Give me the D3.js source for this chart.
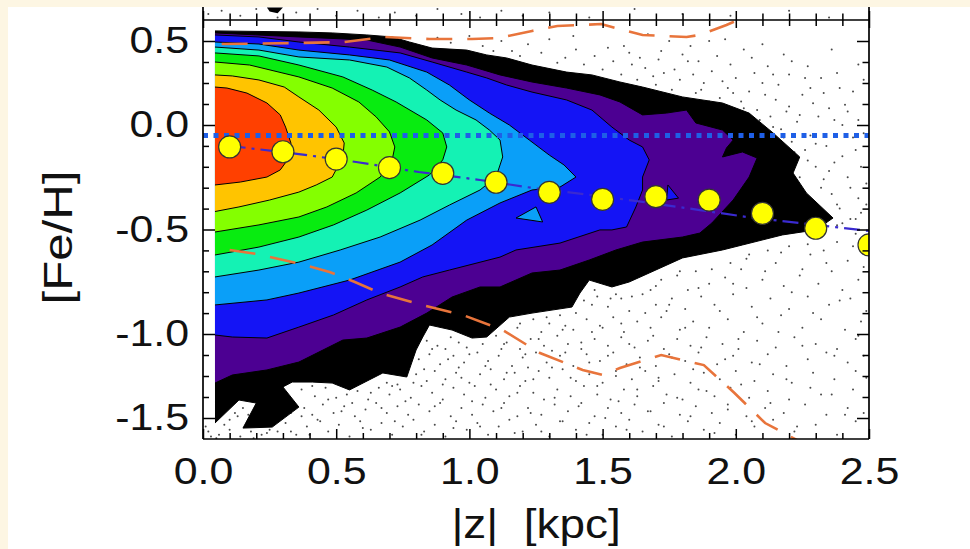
<!DOCTYPE html>
<html><head><meta charset="utf-8">
<script src="https://cdn.jsdelivr.net/npm/d3@7"></script>
<style>
html,body{margin:0;padding:0;background:#fdf6e3;}
svg{display:block;}
text{font-family:"Liberation Sans",Arial,Helvetica,sans-serif;fill:#111;}
</style>
</head><body>
<svg id="c" width="970" height="549"></svg>
<script>
// ---------------- DATA ----------------
const xMajor = [0, 0.5, 1.0, 1.5, 2.0, 2.5];
const xMinor = [0.1,0.2,0.3,0.4,0.6,0.7,0.8,0.9,1.1,1.2,1.3,1.4,1.6,1.7,1.8,1.9,2.1,2.2,2.3,2.4];
const yMajor = [0.5, 0, -0.5, -1.0, -1.5];
const yMinor = [0.375,0.25,0.125,-0.1,-0.2,-0.3,-0.4,-0.6,-0.7,-0.8,-0.9,-1.125,-1.25,-1.375];

// mean [Fe/H] per |z| bin (yellow circles)
const zMeans   = [0.1,0.3,0.5,0.7,0.9,1.1,1.3,1.5,1.7,1.9,2.1,2.3,2.5];
const fehMeans = [-0.105,-0.128,-0.163,-0.204,-0.231,-0.274,-0.322,-0.356,-0.343,-0.359,-0.423,-0.494,-0.574];

// dash-dot fit line
const fitZ   = [0.1,0.36,0.575,0.81,1.04,1.235,1.49,1.65,1.865,2.04,2.24,2.5];
const fitFeh = [-0.1,-0.139,-0.177,-0.225,-0.263,-0.301,-0.34,-0.368,-0.407,-0.44,-0.469,-0.507];

// blue dotted reference level
const refFeh = -0.05;

// orange dashed envelopes
const upperEnv = [[0.07,0.482],[0.36,0.488],[0.53,0.494],[0.68,0.524],[0.85,0.512],[1.01,0.512],[1.11,0.518],[1.235,0.56],[1.33,0.589],[1.495,0.601],[1.55,0.577],[1.65,0.536],[1.815,0.524],[1.865,0.536],[1.965,0.595],[2.015,0.63]];
const lowerEnv = [[0.1,-0.598],[0.2,-0.617],[0.35,-0.66],[0.475,-0.703],[0.57,-0.751],[0.665,-0.804],[0.82,-0.861],[0.975,-0.909],[1.125,-0.981],[1.265,-1.113],[1.425,-1.214],[1.5,-1.244],[1.565,-1.202],[1.72,-1.125],[1.88,-1.185],[1.995,-1.351],[2.11,-1.53],[2.24,-1.64]];

// filled density contours (outer to inner), [z, feh]
const levelBlack = [[0.045,0.56],[0.36,0.554],[0.485,0.548],[0.615,0.536],[0.71,0.524],[0.775,0.494],[0.86,0.458],[0.99,0.446],[1.065,0.417],[1.14,0.399],[1.235,0.357],[1.365,0.315],[1.46,0.298],[1.565,0.256],[1.65,0.226],[1.8,0.167],[1.95,0.131],[2.05,0.071],[2.14,-0.038],[2.24,-0.153],[2.215,-0.23],[2.265,-0.325],[2.365,-0.445],[2.3,-0.502],[2.175,-0.526],[2.025,-0.574],[1.95,-0.598],[1.8,-0.636],[1.675,-0.708],[1.6,-0.751],[1.535,-0.775],[1.45,-0.742],[1.415,-0.804],[1.385,-0.871],[1.235,-0.9],[1.15,-0.919],[1.065,-1.018],[1.01,-1.024],[0.935,-0.981],[0.85,-0.957],[0.825,-1.018],[0.8,-1.095],[0.765,-1.256],[0.675,-1.232],[0.55,-1.333],[0.485,-1.292],[0.41,-1.286],[0.335,-1.286],[0.3,-1.315],[0.36,-1.435],[0.26,-1.554],[0.15,-1.56],[0.2,-1.411],[0.135,-1.393],[0.045,-1.53]];
const levelPurple = [[0.045,0.548],[0.36,0.524],[0.615,0.506],[0.74,0.464],[0.86,0.399],[0.99,0.357],[1.115,0.298],[1.235,0.256],[1.365,0.22],[1.49,0.179],[1.565,0.137],[1.65,0.06],[1.74,0.071],[1.815,0.089],[1.85,0.012],[1.95,-0.024],[1.99,-0.072],[1.965,-0.11],[1.95,-0.153],[2.025,-0.129],[2.08,-0.158],[2.05,-0.249],[1.99,-0.359],[1.91,-0.469],[1.865,-0.517],[1.8,-0.536],[1.65,-0.56],[1.55,-0.598],[1.45,-0.646],[1.34,-0.694],[1.235,-0.708],[1.115,-0.775],[1.04,-0.775],[0.935,-0.823],[0.84,-0.9],[0.74,-0.967],[0.615,-1.024],[0.525,-1.036],[0.36,-1.167],[0.24,-1.214],[0.11,-1.244],[0.045,-1.292]];
const levelBlue = [[0.045,0.536],[0.21,0.524],[0.36,0.494],[0.55,0.464],[0.74,0.429],[0.86,0.375],[0.99,0.315],[1.065,0.28],[1.14,0.238],[1.235,0.196],[1.365,0.149],[1.46,0.089],[1.535,-0.01],[1.6,-0.072],[1.65,-0.105],[1.675,-0.167],[1.65,-0.249],[1.65,-0.311],[1.625,-0.392],[1.59,-0.488],[1.535,-0.502],[1.49,-0.502],[1.34,-0.565],[1.175,-0.598],[1.115,-0.632],[0.925,-0.694],[0.825,-0.727],[0.74,-0.775],[0.615,-0.837],[0.49,-0.909],[0.36,-0.967],[0.24,-1.024],[0.11,-1.018],[0.045,-1.006]];
const levelBlueIsland = [[1.745,-0.287],[1.785,-0.35],[1.74,-0.359],[1.745,-0.287]];
const levelLightBlue = [[0.045,0.494],[0.21,0.482],[0.36,0.446],[0.55,0.417],[0.7,0.387],[0.84,0.315],[0.925,0.238],[1.0,0.149],[1.075,0.071],[1.15,0.0],[1.225,-0.072],[1.3,-0.144],[1.355,-0.191],[1.4,-0.249],[1.34,-0.297],[1.235,-0.311],[1.115,-0.373],[0.99,-0.455],[0.86,-0.574],[0.74,-0.656],[0.55,-0.742],[0.36,-0.804],[0.24,-0.837],[0.045,-0.861]];
const levelLightBlueIsland = [[1.25,-0.392],[1.175,-0.445],[1.275,-0.464],[1.25,-0.392]];
const levelAqua = [[0.045,0.464],[0.21,0.446],[0.36,0.405],[0.55,0.387],[0.69,0.345],[0.775,0.28],[0.84,0.208],[0.89,0.149],[0.95,0.089],[1.025,0.03],[1.075,-0.024],[1.115,-0.072],[1.125,-0.153],[1.1,-0.249],[1.04,-0.311],[0.925,-0.383],[0.815,-0.455],[0.665,-0.536],[0.515,-0.598],[0.36,-0.656],[0.21,-0.694],[0.045,-0.727]];
const levelGreen = [[0.045,0.429],[0.21,0.411],[0.36,0.357],[0.525,0.286],[0.635,0.208],[0.725,0.137],[0.84,0.03],[0.9,-0.038],[0.915,-0.105],[0.9,-0.167],[0.85,-0.239],[0.74,-0.325],[0.615,-0.407],[0.49,-0.478],[0.36,-0.536],[0.21,-0.584],[0.045,-0.622]];
const levelYellowGreen = [[0.045,0.375],[0.175,0.357],[0.36,0.286],[0.485,0.22],[0.585,0.137],[0.65,0.048],[0.7,-0.033],[0.72,-0.105],[0.71,-0.167],[0.665,-0.249],[0.575,-0.325],[0.465,-0.392],[0.36,-0.44],[0.21,-0.478],[0.045,-0.512]];
const levelOrange = [[0.045,0.298],[0.11,0.292],[0.21,0.268],[0.305,0.226],[0.36,0.167],[0.435,0.089],[0.5,-0.01],[0.53,-0.086],[0.525,-0.153],[0.485,-0.249],[0.425,-0.287],[0.36,-0.321],[0.25,-0.359],[0.135,-0.392],[0.045,-0.414]];
const levelRed = [[0.045,0.226],[0.09,0.22],[0.165,0.19],[0.24,0.131],[0.29,0.06],[0.31,-0.01],[0.33,-0.086],[0.325,-0.153],[0.29,-0.215],[0.24,-0.249],[0.14,-0.273],[0.045,-0.287]];

// individual stars outside the contoured region
const starsLow = [[2.4,-0.47],[2.45,-0.52],[2.38,-0.56],[2.47,-0.6],[2.05,-0.62],[2.12,-0.6],[2.2,-0.58],[2.28,-0.62],[2.33,-0.6],[2.42,-0.65],[2.48,-0.68],[2.15,-0.66],[2.25,-0.69],[2.36,-0.7],[1.98,-0.66],[2.02,-0.69],
[1.72,-0.74],[1.78,-0.72],[1.85,-0.7],[1.9,-0.76],[1.96,-0.73],[2.04,-0.78],[2.1,-0.74],[2.18,-0.77],[2.24,-0.72],[2.31,-0.76],[2.4,-0.79],[2.46,-0.74],[1.68,-0.79],[1.82,-0.79],[1.47,-0.79],
[1.43,-0.84],[1.48,-0.82],[1.52,-0.87],[1.57,-0.83],[1.6,-0.89],[1.65,-0.81],[1.7,-0.86],[1.76,-0.83],[1.81,-0.88],[1.87,-0.82],[1.92,-0.86],[1.99,-0.81],[2.06,-0.87],[2.13,-0.83],[2.2,-0.88],[2.27,-0.82],[2.35,-0.86],[2.43,-0.83],[2.49,-0.89],[1.55,-0.81],[1.74,-0.89],
[1.18,-0.97],[1.24,-0.93],[1.3,-0.95],[1.34,-0.91],[1.39,-0.98],[1.44,-0.93],[1.49,-0.96],[1.54,-0.92],[1.58,-0.99],[1.63,-0.94],[1.68,-0.97],[1.72,-0.92],[1.79,-0.98],[1.84,-0.94],[1.9,-0.97],[1.97,-0.93],[2.03,-0.99],[2.1,-0.95],[2.17,-0.91],[2.25,-0.97],[2.32,-0.93],[2.41,-0.98],[2.47,-0.94],[1.27,-0.99],[1.36,-0.96],[1.46,-0.99],
[0.84,-1.04],[0.88,-1.07],[0.93,-1.02],[0.99,-1.08],[1.05,-1.06],[1.1,-1.01],[1.14,-1.05],[1.19,-1.09],[1.23,-1.03],[1.28,-1.07],[1.33,-1.01],[1.37,-1.06],[1.42,-1.09],[1.47,-1.03],[1.52,-1.07],[1.57,-1.02],[1.62,-1.08],[1.67,-1.04],[1.73,-1.09],[1.78,-1.03],[1.83,-1.07],[1.89,-1.02],[1.95,-1.06],[2.01,-1.09],[2.08,-1.04],[2.15,-1.08],[2.22,-1.02],[2.3,-1.06],[2.38,-1.09],[2.45,-1.03],[0.91,-1.09],[1.12,-1.09],[1.31,-1.1],
[0.81,-1.15],[0.85,-1.12],[0.89,-1.18],[0.94,-1.13],[0.98,-1.17],[1.03,-1.11],[1.07,-1.16],[1.11,-1.13],[1.16,-1.19],[1.2,-1.14],[1.25,-1.11],[1.29,-1.17],[1.34,-1.13],[1.39,-1.19],[1.44,-1.12],[1.49,-1.16],[1.54,-1.11],[1.59,-1.18],[1.64,-1.14],[1.7,-1.19],[1.75,-1.12],[1.81,-1.16],[1.86,-1.11],[1.93,-1.18],[1.99,-1.13],[2.06,-1.17],[2.12,-1.12],[2.19,-1.19],[2.27,-1.15],[2.34,-1.11],[2.42,-1.17],[2.48,-1.13],[0.96,-1.2],[1.22,-1.2],
[0.8,-1.24],[0.84,-1.28],[0.87,-1.22],[0.91,-1.27],[0.95,-1.23],[1.0,-1.29],[1.04,-1.24],[1.08,-1.21],[1.13,-1.27],[1.17,-1.23],[1.21,-1.28],[1.26,-1.22],[1.3,-1.26],[1.35,-1.21],[1.4,-1.28],[1.45,-1.24],[1.5,-1.29],[1.55,-1.22],[1.61,-1.27],[1.66,-1.22],[1.71,-1.28],[1.77,-1.24],[1.83,-1.29],[1.88,-1.23],[1.94,-1.27],[2.0,-1.22],[2.07,-1.28],[2.14,-1.24],[2.21,-1.29],[2.29,-1.23],[2.37,-1.27],[2.45,-1.22],[0.69,-1.29],[0.73,-1.3],
[0.37,-1.33],[0.42,-1.37],[0.46,-1.32],[0.5,-1.38],[0.54,-1.36],[0.58,-1.34],[0.62,-1.39],[0.66,-1.32],[0.7,-1.36],[0.74,-1.33],[0.78,-1.38],[0.82,-1.31],[0.86,-1.35],[0.9,-1.39],[0.94,-1.32],[0.98,-1.36],[1.02,-1.31],[1.06,-1.38],[1.1,-1.33],[1.15,-1.37],[1.19,-1.31],[1.24,-1.35],[1.28,-1.39],[1.33,-1.33],[1.38,-1.37],[1.43,-1.31],[1.48,-1.36],[1.53,-1.39],[1.58,-1.33],[1.63,-1.37],[1.69,-1.31],[1.74,-1.36],[1.8,-1.39],[1.86,-1.33],[1.92,-1.37],[1.98,-1.32],[2.05,-1.38],[2.12,-1.34],[2.2,-1.39],[2.28,-1.32],[2.36,-1.36],[2.44,-1.33],
[0.38,-1.44],[0.41,-1.48],[0.45,-1.42],[0.49,-1.47],[0.53,-1.43],[0.57,-1.49],[0.61,-1.45],[0.65,-1.41],[0.69,-1.47],[0.73,-1.43],[0.77,-1.48],[0.81,-1.42],[0.85,-1.46],[0.89,-1.41],[0.93,-1.49],[0.97,-1.44],[1.01,-1.48],[1.05,-1.42],[1.09,-1.46],[1.13,-1.41],[1.18,-1.49],[1.22,-1.44],[1.27,-1.48],[1.32,-1.42],[1.37,-1.46],[1.42,-1.41],[1.47,-1.49],[1.52,-1.44],[1.57,-1.47],[1.62,-1.42],[1.68,-1.46],[1.73,-1.41],[1.79,-1.48],[1.85,-1.43],[1.91,-1.47],[1.97,-1.42],[2.04,-1.49],[2.11,-1.44],[2.18,-1.47],[2.26,-1.42],[2.34,-1.48],[2.42,-1.44],[2.48,-1.47],[0.33,-1.47],
[0.28,-1.58],[0.31,-1.53],[0.35,-1.6],[0.39,-1.55],[0.43,-1.51],[0.47,-1.58],[0.51,-1.54],[0.55,-1.61],[0.59,-1.52],[0.63,-1.57],[0.67,-1.53],[0.71,-1.6],[0.75,-1.55],[0.79,-1.51],[0.83,-1.58],[0.87,-1.54],[0.91,-1.61],[0.95,-1.52],[0.99,-1.57],[1.03,-1.53],[1.07,-1.6],[1.11,-1.55],[1.15,-1.51],[1.2,-1.58],[1.25,-1.54],[1.3,-1.61],[1.35,-1.52],[1.4,-1.57],[1.45,-1.53],[1.5,-1.6],[1.55,-1.55],[1.6,-1.51],[1.65,-1.58],[1.71,-1.54],[1.76,-1.61],[1.82,-1.52],[1.88,-1.57],[1.94,-1.53],[2.0,-1.6],[2.07,-1.55],[2.14,-1.51],[2.22,-1.58],[2.3,-1.54],[2.38,-1.6],[2.45,-1.52],
[0.12,-1.47],[0.15,-1.44],[0.1,-1.51],[0.17,-1.48],[0.02,-1.58],[0.06,-1.6],[0.1,-1.57],[0.14,-1.61],[0.18,-1.58],[0.22,-1.6],[0.25,-1.57],[0.01,-1.55],[0.03,-1.61]];
const starsLowExtra = [[0.41,-1.31],[0.44,-1.52],[0.47,-1.39],[0.52,-1.46],[0.56,-1.41],[0.6,-1.56],[0.63,-1.35],[0.67,-1.44],[0.71,-1.31],[0.72,-1.52],[0.76,-1.4],[0.79,-1.29],[0.82,-1.6],[0.83,-1.21],[0.86,-1.09],[0.87,-1.43],[0.9,-1.3],[0.92,-1.15],[0.94,-1.56],[0.96,-1.05],[0.97,-1.26],[1.0,-1.12],[1.01,-1.4],[1.04,-1.55],[1.06,-1.19],[1.08,-1.3],[1.12,-1.44],[1.13,-1.06],[1.14,-1.23],[1.17,-1.59],[1.18,-1.35],[1.19,-0.95],[1.21,-1.12],[1.23,-1.47],[1.24,-1.27],[1.26,-1.03],[1.27,-1.58],[1.29,-0.92],[1.31,-1.2],[1.32,-1.38],[1.34,-1.52],[1.35,-0.98],[1.36,-1.11],[1.38,-1.26],[1.4,-0.9],[1.41,-1.43],[1.42,-1.05],[1.44,-1.6],[1.45,-1.17],[1.46,-0.86],[1.48,-1.31],[1.5,-0.97],[1.51,-1.5],[1.52,-1.13],[1.53,-0.83],[1.55,-1.25],[1.56,-1.4],[1.57,-0.95],[1.59,-1.57],[1.6,-1.06],[1.61,-0.82],[1.63,-1.33],[1.64,-1.2],[1.66,-0.9],[1.67,-1.46],[1.69,-1.01],[1.7,-0.77],[1.71,-1.26],[1.73,-1.55],[1.75,-0.86],[1.76,-1.14],[1.78,-1.38],[1.79,-0.7],[1.81,-0.97],[1.83,-1.49],[1.84,-1.21],[1.86,-0.78],[1.87,-1.08],[1.89,-1.34],[1.91,-0.69],[1.92,-1.59],[1.94,-0.89],[1.96,-1.15],[1.97,-1.45],[1.99,-0.76],[2.01,-1.03],[2.02,-1.3],[2.04,-0.64],[2.06,-1.52],[2.08,-0.92],[2.09,-1.18],[2.11,-0.7],[2.13,-1.41],[2.16,-0.99],[2.17,-0.61],[2.19,-1.27],[2.21,-0.8],[2.23,-1.55],[2.25,-1.07],[2.27,-0.57],[2.29,-0.9],[2.32,-1.36],[2.34,-0.66],[2.37,-1.13],[2.39,-0.84],[2.41,-1.48],[2.44,-0.58],[2.46,-1.01],[2.49,-1.26],[0.3,-1.5],[0.33,-1.58],[0.37,-1.49],[0.4,-1.6],[0.05,-1.62],[0.08,-1.54],[0.19,-1.62],[0.24,-1.59],[0.13,-1.49]];
const starsHigh = [[0.88,0.52],[0.93,0.49],[1.0,0.53],[1.05,0.47],[1.12,0.5],[1.16,0.44],[1.22,0.48],[1.27,0.43],[1.3,0.51],[1.36,0.4],[1.4,0.45],[1.43,0.36],[1.47,0.41],[1.5,0.33],[1.54,0.38],[1.57,0.3],[1.6,0.43],[1.63,0.27],[1.66,0.34],[1.7,0.24],[1.73,0.31],[1.76,0.21],[1.79,0.27],[1.82,0.38],[1.85,0.19],[1.88,0.25],[1.91,0.32],[1.94,0.16],[1.97,0.22],[2.0,0.28],[2.02,0.14],[2.05,0.2],[2.08,0.09],[2.1,0.25],[2.13,0.05],[2.15,0.15],[2.17,-0.02],[2.19,0.08],[2.21,-0.08],[2.23,0.02],[2.25,0.18],[2.26,-0.12],[2.28,-0.05],[2.3,-0.2],[2.31,0.05],[2.33,-0.26],[2.34,-0.1],[2.36,-0.33],[2.37,-0.18],[2.39,-0.4],[2.4,0.0],[2.42,-0.25],[2.43,-0.45],[2.45,-0.12],[2.46,-0.35],[2.48,-0.04],[2.49,-0.28],[2.41,0.12],[2.35,0.1],[2.28,0.22],[2.2,0.3],[2.12,0.35],[2.44,0.2],[2.47,-0.42],[2.38,-0.48],[2.24,-0.25],
[1.58,0.47],[1.64,0.4],[1.72,0.44],[1.8,0.42],[1.86,0.38],[1.93,0.41],[1.98,0.36],[2.06,0.4],[2.14,0.3],[2.18,0.42],[2.27,0.35],[2.32,0.28],[2.38,0.31],[2.46,0.36],[1.75,0.5],[1.67,0.54],[1.9,0.5],[2.1,0.48],[2.36,0.45],
[1.52,0.46],[1.61,0.36],[1.69,0.29],[1.71,0.39],[1.77,0.33],[1.84,0.3],[1.87,0.21],[1.9,0.14],[1.95,0.26],[1.99,0.19],[2.03,0.1],[2.07,0.31],[2.09,0.03],[2.11,0.18],[2.14,-0.01],[2.16,0.24],[2.18,-0.06],[2.2,0.11],[2.22,-0.13],[2.24,0.06],[2.27,-0.17],[2.29,0.13],[2.3,-0.09],[2.32,-0.3],[2.33,0.19],[2.35,-0.22],[2.37,0.03],[2.38,-0.38],[2.4,-0.15],[2.42,0.08],[2.43,-0.3],[2.45,-0.45],[2.46,0.03],[2.47,-0.2],[2.48,0.27],[2.49,-0.38],[2.44,-0.06],[2.39,0.22],[2.26,0.28],[2.21,0.38],[2.03,0.45],[1.96,0.51],[1.83,0.47],[1.09,0.44],[1.19,0.41],[1.33,0.37],[1.39,0.53]];
// stars of the panel above, visible over the top axis
const starsAbove = [[0.02,0.66],[0.07,0.68],[0.14,0.65],[0.2,0.69],[0.28,0.64],[0.35,0.67],[0.43,0.69],[0.5,0.65],[0.58,0.68],[0.66,0.64],[0.72,0.67],[0.8,0.65],[0.88,0.69],[0.97,0.66],[1.04,0.64],[1.12,0.68],[1.2,0.65],[1.3,0.67],[1.45,0.64],[1.62,0.69],[1.8,0.66],[1.98,0.65],[2.2,0.68],[2.35,0.64]];
const blobAbove = [[0.24,0.70],[0.30,0.70],[0.28,0.665],[0.25,0.675]];

// ---------------- DRAW ----------------
const svg = d3.select('#c');
const W = 970, H = 549;
const L = 203, R = 869, T = 20, B = 439;
const x = d3.scaleLinear().domain([0, 2.5]).range([L, R]);
const y = d3.scaleLinear().domain([0.625, 0.5, 0, -0.5, -1.0, -1.5, -1.625]).range([20, 41, 125, 229.5, 334, 418, 439]);

svg.append('rect').attr('width', W).attr('height', H).attr('fill', '#fdf6e3');
svg.append('rect').attr('x', 8).attr('y', 7).attr('width', W - 8).attr('height', H - 7).attr('fill', '#ffffff');

const defs = svg.append('defs');
defs.append('clipPath').attr('id', 'plotClip').append('rect').attr('x', L).attr('y', T).attr('width', R - L).attr('height', B - T);
defs.append('clipPath').attr('id', 'aboveClip').append('rect').attr('x', L).attr('y', 7).attr('width', R - L).attr('height', T - 7);

const plot = svg.append('g').attr('clip-path', 'url(#plotClip)');
const above = svg.append('g').attr('clip-path', 'url(#aboveClip)');

const line = d3.line().x(d => x(d[0])).y(d => y(d[1]));

// stars (drawn under the contours)
const dotStyle = s => s.attr('r', 1.0).attr('fill', '#1c1c1c').attr('opacity', 0.8);
[[starsLow, 'sl'], [starsLowExtra, 'sx'], [starsHigh, 'sh']].forEach(([arr, cls]) => {
  plot.selectAll('circle.' + cls).data(arr).join('circle').attr('class', cls)
    .attr('cx', d => x(d[0])).attr('cy', d => y(d[1])).call(dotStyle);
});
above.selectAll('circle.sa').data(starsAbove).join('circle').attr('class', 'sa')
  .attr('cx', d => x(d[0])).attr('cy', d => y(d[1])).call(dotStyle);
above.append('path').attr('d', line(blobAbove) + 'Z').attr('fill', '#000');

// contours
const levels = [
  {pts: levelBlack, fill: '#000000'},
  {pts: levelPurple, fill: '#4c0092'},
  {pts: levelBlue, fill: '#1414f5'},
  {pts: levelBlueIsland, fill: '#1414f5'},
  {pts: levelLightBlue, fill: '#0a9ff8'},
  {pts: levelLightBlueIsland, fill: '#0a9ff8'},
  {pts: levelAqua, fill: '#14f2b4'},
  {pts: levelGreen, fill: '#08ec10'},
  {pts: levelYellowGreen, fill: '#84ff00'},
  {pts: levelOrange, fill: '#ffc400'},
  {pts: levelRed, fill: '#ff4000'}
];
levels.forEach(lv => {
  plot.append('path').attr('d', line(lv.pts) + 'Z').attr('fill', lv.fill).attr('stroke', 'none');
  plot.append('path').attr('d', line(lv.pts)).attr('fill', 'none').attr('stroke', '#000').attr('stroke-width', 1);
});

// orange dashed envelopes
[upperEnv, lowerEnv].forEach(env => {
  plot.append('path').attr('d', line(env)).attr('fill', 'none')
    .attr('stroke', '#e8743b').attr('stroke-width', 2.6).attr('stroke-dasharray', '26,15');
});

// blue dotted reference line
plot.append('line').attr('x1', x(0)).attr('x2', x(2.5)).attr('y1', y(refFeh)).attr('y2', y(refFeh))
  .attr('stroke', '#1f5fe6').attr('stroke-width', 5).attr('stroke-dasharray', '5,5.5');

// dash-dot fit line
const fitPts = fitZ.map((z, i) => [z, fitFeh[i]]);
plot.append('path').attr('d', line(fitPts)).attr('fill', 'none')
  .attr('stroke', '#3a2ad0').attr('stroke-width', 2.2).attr('stroke-dasharray', '16,6,3,6');

// mean circles
plot.selectAll('circle.mean').data(zMeans.map((z, i) => [z, fehMeans[i]])).join('circle').attr('class', 'mean')
  .attr('cx', d => x(d[0])).attr('cy', d => y(d[1])).attr('r', 11)
  .attr('fill', '#ffff00').attr('stroke', '#333').attr('stroke-width', 1.2);

// ---------------- AXES ----------------
const fmt = d => d.toFixed(1);
const axStroke = g => { g.select('.domain').remove(); g.selectAll('line').attr('stroke', '#000').attr('stroke-width', 1.5); };

// bottom
svg.append('g').attr('transform', `translate(0,${B})`)
  .call(d3.axisBottom(x).tickValues(xMinor).tickSize(-6).tickFormat('')).call(axStroke);
const bx = svg.append('g').attr('transform', `translate(0,${B})`)
  .call(d3.axisBottom(x).tickValues(xMajor).tickSize(-10).tickPadding(19).tickFormat(fmt)).call(axStroke);
bx.attr('font-size', 37).attr('font-family', '"Liberation Sans", Arial, sans-serif');
bx.selectAll('text').attr('fill', '#111').attr('transform', 'scale(1.16,1)');

// top (ticks cross the shared border)
svg.append('g').attr('transform', `translate(0,${T})`)
  .call(d3.axisTop(x).tickValues(xMinor).tickSize(6.5).tickFormat('')).call(axStroke)
  .selectAll('line').attr('y2', -6.5).attr('y1', 6);
svg.append('g').attr('transform', `translate(0,${T})`)
  .call(d3.axisTop(x).tickValues(xMajor).tickSize(9).tickFormat('')).call(axStroke)
  .selectAll('line').attr('y2', -9).attr('y1', 8);

// left
svg.append('g').attr('transform', `translate(${L},0)`)
  .call(d3.axisLeft(y).tickValues(yMinor).tickSize(-6).tickFormat('')).call(axStroke);
const ly = svg.append('g').attr('transform', `translate(${L},0)`)
  .call(d3.axisLeft(y).tickValues(yMajor).tickSize(-12).tickPadding(12).tickFormat(fmt)).call(axStroke);
ly.attr('font-size', 37).attr('font-family', '"Liberation Sans", Arial, sans-serif');
ly.selectAll('text').attr('fill', '#111').attr('transform', 'scale(1.16,1)');

// right
svg.append('g').attr('transform', `translate(${R},0)`)
  .call(d3.axisRight(y).tickValues(yMinor).tickSize(-6.5).tickFormat('')).call(axStroke);
svg.append('g').attr('transform', `translate(${R},0)`)
  .call(d3.axisRight(y).tickValues(yMajor).tickSize(-12).tickFormat('')).call(axStroke);

// frame
const frame = svg.append('g').attr('stroke', '#000').attr('stroke-width', 1.7);
frame.append('line').attr('x1', L).attr('x2', L).attr('y1', 7).attr('y2', B);
frame.append('line').attr('x1', R).attr('x2', R).attr('y1', 7).attr('y2', B);
frame.append('line').attr('x1', L).attr('x2', R).attr('y1', T).attr('y2', T);
frame.append('line').attr('x1', L).attr('x2', R).attr('y1', B).attr('y2', B);

// titles
svg.append('text').attr('transform', 'translate(536,538) scale(1.12,1)')
  .attr('text-anchor', 'middle').attr('font-size', 41).style('white-space', 'pre')
  .text('|z|  [kpc]');
svg.append('text').attr('transform', 'translate(72,237.5) rotate(-90) scale(1.2,1)')
  .attr('text-anchor', 'middle').attr('font-size', 41)
  .text('[Fe/H]');
</script>
</body></html>
